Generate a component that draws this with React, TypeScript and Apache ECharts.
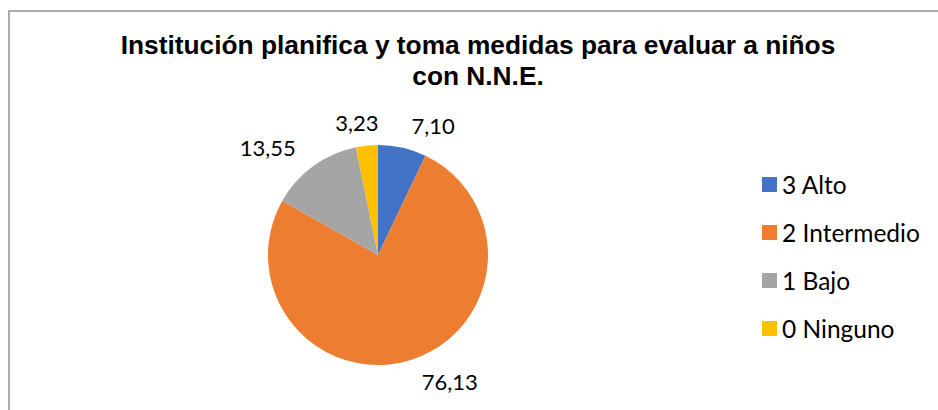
import React, { useEffect, useRef } from "react";
import * as echarts from "echarts";

const titleText = "Institución planifica y toma medidas para evaluar a niños\ncon N.N.E.";
const categories = ["3 Alto", "2 Intermedio", "1 Bajo", "0 Ninguno"];
const values = [7.1, 76.13, 13.55, 3.23];
const colors = ["#4472C4", "#ED7D31", "#A5A5A5", "#FFC000"];

export default function App() {
  const ref = useRef<HTMLDivElement>(null);
  useEffect(() => {
    if (!ref.current) return;
    const chart = echarts.init(ref.current, null, { renderer: "svg" });
    chart.setOption({
      animation: false,
      backgroundColor: "#ffffff",
      title: {
        text: titleText,
        left: 478,
        textAlign: "center",
        top: 29,
        padding: 0,
        textStyle: {
          fontFamily: "Liberation Sans",
          fontWeight: "bold",
          fontSize: 26.3,
          lineHeight: 31,
          color: "#000000",
        },
      },
      legend: {
        orient: "vertical",
        left: 762,
        top: 172,
        padding: 0,
        icon: "rect",
        itemWidth: 15,
        itemHeight: 15,
        itemGap: 23,
        data: categories,
        textStyle: {
          fontFamily: "Lato",
          fontSize: 24.5,
          lineHeight: 24,
          color: "#000000",
        },
      },
      graphic: [
        {
          type: "rect",
          shape: { x: 9, y: 11, width: 1000, height: 1000 },
          style: { fill: "none", stroke: "#ababab", lineWidth: 2 },
          silent: true,
        },
      ],
      series: [
        {
          type: "pie",
          center: [378, 255],
          radius: [0, 110],
          startAngle: 90,
          clockwise: true,
          avoidLabelOverlap: false,
          data: categories.map((name, i) => ({
            name,
            value: values[i],
            itemStyle: { color: colors[i] },
          })),
          label: {
            show: true,
            position: "outside",
            formatter: (p: any) => p.value.toFixed(2).replace(".", ","),
            fontFamily: "Lato",
            fontSize: 22,
            color: "#000000",
            distanceToLabelLine: 4,
          },
          labelLine: {
            show: true,
            length: 23,
            length2: 0,
            lineStyle: { opacity: 0 },
          },
          labelLayout: (p: any) => (p.dataIndex === 3 ? { dx: 18 } : {}),
          emphasis: { disabled: true },
        },
      ],
    });
    return () => chart.dispose();
  }, []);
  return (
    <div
      ref={ref}
      style={{ position: "absolute", left: 0, top: 0, width: 938, height: 410 }}
    />
  );
}
